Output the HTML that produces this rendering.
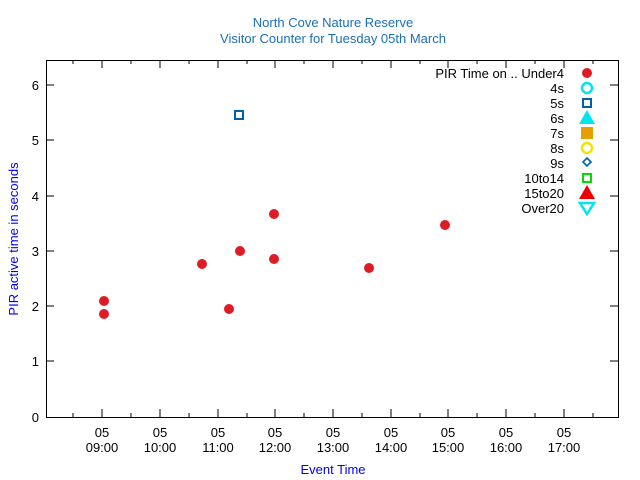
<!DOCTYPE html><html><head><style>body{margin:0;background:#fff}svg{display:block}text{font-family:"Liberation Sans",sans-serif;font-size:13px}</style></head><body>
<svg width="640" height="480" xmlns="http://www.w3.org/2000/svg">
<text x="333" y="27" text-anchor="middle" fill="#1a6fb5">North Cove Nature Reserve</text>
<text x="333" y="43" text-anchor="middle" fill="#1a6fb5">Visitor Counter for Tuesday 05th March</text>
<rect x="46.5" y="60.5" width="572" height="357" fill="none" stroke="#000"/>
<g stroke="#000">
<path d="M46 85h8M618 85h-8M46 140h8M618 140h-8M46 196h8M618 196h-8M46 251h8M618 251h-8M46 306h8M618 306h-8M46 361h8M618 361h-8"/>
<path d="M102 417v-8M160 417v-8M218 417v-8M275 417v-8M333 417v-8M391 417v-8M448 417v-8M506 417v-8M564 417v-8M102 60v8M160 60v8M218 60v8M275 60v8M333 60v8M391 60v8M448 60v8M506 60v8M564 60v8"/>
<path d="M73 417v-4M131 417v-4M189 417v-4M247 417v-4M304 417v-4M362 417v-4M420 417v-4M477 417v-4M535 417v-4M593 417v-4M73 60v4M131 60v4M189 60v4M247 60v4M304 60v4M362 60v4M420 60v4M477 60v4M535 60v4M593 60v4"/>
</g>
<g text-anchor="end"><text x="39" y="90">6</text><text x="39" y="145">5</text><text x="39" y="201">4</text><text x="39" y="256">3</text><text x="39" y="311">2</text><text x="39" y="366">1</text><text x="39" y="422">0</text></g>
<g text-anchor="middle">
<text x="102" y="437">05</text><text x="102" y="452">09:00</text>
<text x="160" y="437">05</text><text x="160" y="452">10:00</text>
<text x="218" y="437">05</text><text x="218" y="452">11:00</text>
<text x="275" y="437">05</text><text x="275" y="452">12:00</text>
<text x="333" y="437">05</text><text x="333" y="452">13:00</text>
<text x="391" y="437">05</text><text x="391" y="452">14:00</text>
<text x="448" y="437">05</text><text x="448" y="452">15:00</text>
<text x="506" y="437">05</text><text x="506" y="452">16:00</text>
<text x="564" y="437">05</text><text x="564" y="452">17:00</text>
<text x="333" y="474" fill="#0000ee">Event Time</text>
<text transform="translate(18,239) rotate(-90)" fill="#0000ee">PIR active time in seconds</text>
</g>
<g fill="#dd1c25">
<circle cx="104" cy="301" r="5"/><circle cx="104" cy="314" r="5"/><circle cx="202" cy="264" r="5"/><circle cx="229" cy="309" r="5"/><circle cx="240" cy="251" r="5"/><circle cx="274" cy="214" r="5"/><circle cx="274" cy="259" r="5"/><circle cx="369" cy="268" r="5"/><circle cx="445" cy="225" r="5"/>
<circle cx="587" cy="73" r="5"/></g>
<rect x="235" y="111" width="8" height="8" fill="none" stroke="#0060ad" stroke-width="2"/>
<g text-anchor="end">
<text x="564" y="78">PIR Time on .. Under4</text><text x="564" y="93">4s</text><text x="564" y="108">5s</text><text x="564" y="123">6s</text><text x="564" y="138">7s</text><text x="564" y="153">8s</text><text x="564" y="168">9s</text><text x="564" y="183">10to14</text><text x="564" y="198">15to20</text><text x="564" y="213">Over20</text></g>
<circle cx="587" cy="88" r="5" fill="none" stroke="#00e5ee" stroke-width="2.5"/>
<rect x="583" y="99" width="8" height="8" fill="none" stroke="#0060ad" stroke-width="2"/>
<path d="M587 110l8 14h-16z" fill="#00e5ee"/>
<rect x="581" y="127" width="12" height="12" fill="#e69f00"/>
<circle cx="587" cy="148" r="5" fill="none" stroke="#f0e400" stroke-width="2.5"/>
<path d="M587 158l4 4-4 4-4-4z" fill="none" stroke="#0060ad" stroke-width="1.6"/>
<rect x="583" y="174" width="8" height="8" fill="none" stroke="#00dd00" stroke-width="2"/>
<path d="M587 185l8 14h-16z" fill="#ee0000"/>
<path d="M580 203h14l-7 11z" fill="none" stroke="#00e5ee" stroke-width="2.5"/>
</svg></body></html>
